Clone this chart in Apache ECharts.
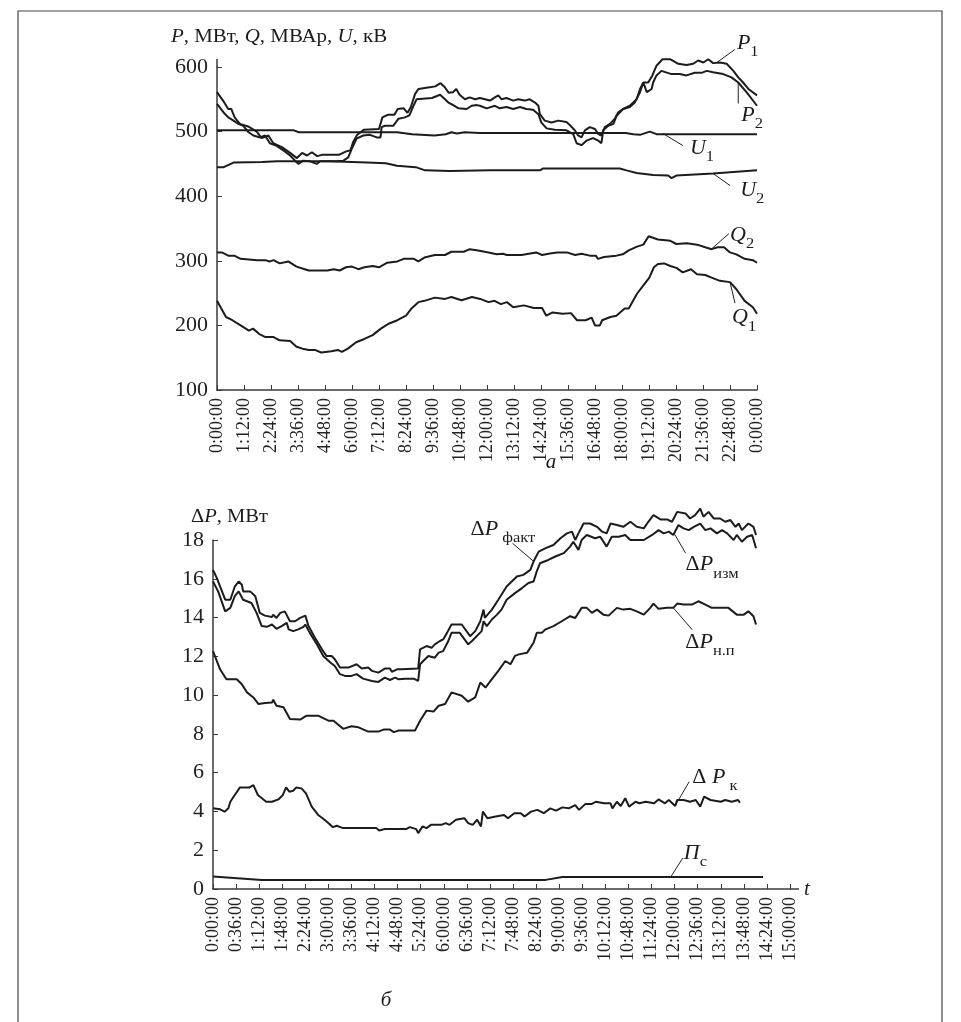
<!DOCTYPE html>
<html>
<head>
<meta charset="utf-8">
<script src="https://cdn.jsdelivr.net/npm/echarts@6/dist/echarts.min.js"></script>
<style>
  html, body { margin: 0; padding: 0; background: #fff; }
  #chart { width: 961px; height: 1022px; }
</style>
</head>
<body>
<div id="chart"></div>
<script>
// time in minutes
// panel a: P, MW / Q, MVAr / U, kV over 24 h
var p1 = [[0,561],[16,548],[30,535],[38,535],[47,522],[61,512],[83,508],[106,500],[119,490],[137,494],[150,482],[173,476],[195,467],[213,459],[227,467],[240,463],[253,468],[267,462],[280,464],[325,464],[343,469],[356,471],[363,484],[374,495],[392,503],[432,504],[441,522],[455,526],[473,526],[482,535],[498,536],[508,529],[517,538],[528,558],[537,566],[571,569],[582,570],[596,575],[607,569],[618,560],[629,561],[638,566],[647,557],[661,550],[674,553],[688,550],[701,552],[728,548],[741,553],[750,556],[759,550],[772,552],[790,548],[803,550],[821,548],[834,550],[848,545],[857,540],[861,527],[874,517],[892,514],[910,517],[932,515],[941,510],[954,502],[963,494],[972,491],[981,502],[994,507],[1008,504],[1017,496],[1025,494],[1034,507],[1048,512],[1061,520],[1070,530],[1083,535],[1101,538],[1114,545],[1128,561],[1137,576],[1150,576],[1161,587],[1172,602],[1188,612],[1208,612],[1230,605],[1252,603],[1270,605],[1283,610],[1297,607],[1310,612],[1323,606],[1341,607],[1359,605],[1377,594],[1390,584],[1403,576],[1417,566],[1440,556]];
var p2 = [[0,543],[17,530],[30,522],[44,517],[57,512],[70,509],[84,499],[97,494],[115,491],[128,494],[141,482],[159,478],[177,471],[195,463],[208,455],[217,450],[230,455],[248,454],[266,450],[275,454],[292,454],[319,454],[337,455],[350,460],[359,473],[372,489],[390,494],[408,495],[426,491],[436,491],[439,507],[448,509],[470,509],[484,520],[501,522],[513,525],[524,540],[532,550],[573,552],[595,557],[608,550],[617,545],[630,541],[644,536],[666,535],[679,540],[693,541],[701,540],[719,536],[741,540],[754,536],[772,538],[790,535],[808,538],[825,535],[843,534],[857,527],[865,514],[879,505],[901,503],[932,502],[950,496],[959,482],[972,479],[985,486],[1003,490],[1017,486],[1025,482],[1030,502],[1043,509],[1057,512],[1066,525],[1083,535],[1101,540],[1119,550],[1128,566],[1137,576],[1146,561],[1159,566],[1163,576],[1172,587],[1185,594],[1212,589],[1234,589],[1252,587],[1274,591],[1292,591],[1306,594],[1323,592],[1350,589],[1372,584],[1390,576],[1412,561],[1440,540]];
var u1 = [[0,502],[205,502],[218,499],[480,499],[520,496],[580,494],[610,496],[625,499],[640,497],[660,499],[700,498],[1000,498],[1090,498],[1110,496],[1128,495],[1154,500],[1172,496],[1440,496]];
var u2 = [[0,445],[18,445],[44,452],[120,453],[160,454],[300,454],[400,452],[450,451],[480,447],[530,445],[555,440],[620,439],[728,440],[861,440],[870,443],[1074,443],[1092,440],[1119,436],[1163,433],[1203,432],[1212,428],[1225,432],[1323,435],[1440,440]];
var q2 = [[0,313],[13,313],[30,308],[46,308],[63,303],[107,301],[129,301],[140,299],[151,301],[167,296],[190,299],[212,291],[234,287],[245,285],[294,285],[311,287],[327,285],[344,290],[360,291],[377,287],[393,290],[415,292],[432,290],[454,297],[481,299],[498,303],[525,303],[537,299],[553,305],[581,309],[608,309],[625,314],[658,314],[674,318],[696,316],[724,313],[746,310],[762,311],[773,309],[812,309],[851,313],[867,309],[884,311],[906,313],[933,313],[955,309],[972,311],[994,308],[1010,308],[1016,303],[1032,306],[1065,308],[1082,310],[1098,316],[1120,322],[1137,325],[1151,338],[1176,333],[1209,331],[1225,326],[1253,327],[1280,325],[1302,321],[1319,318],[1335,321],[1352,321],[1368,313],[1385,310],[1407,303],[1429,301],[1440,297]];
var q1 = [[0,238],[24,213],[41,208],[63,200],[85,192],[96,195],[112,187],[129,182],[151,182],[167,177],[195,176],[212,167],[228,164],[245,162],[261,162],[278,158],[305,160],[322,162],[333,159],[349,164],[371,174],[393,179],[415,185],[437,195],[459,203],[481,208],[504,215],[520,227],[537,236],[553,238],[581,243],[608,241],[625,244],[652,239],[680,244],[702,241],[724,236],[740,238],[757,233],[773,236],[790,228],[818,231],[845,227],[867,227],[878,215],[895,220],[922,218],[944,219],[960,208],[983,208],[999,212],[1008,200],[1021,200],[1027,208],[1049,213],[1065,215],[1087,226],[1098,226],[1120,249],[1137,262],[1153,274],[1165,290],[1176,295],[1192,296],[1209,292],[1225,289],[1242,282],[1264,287],[1280,279],[1302,278],[1319,274],[1341,269],[1368,267],[1385,256],[1407,238],[1429,228],[1440,218]];

// panel b: losses, MW over 15 h
var dpFact = [[0,16.46],[6,16.03],[19,14.92],[27,14.92],[34,15.6],[40,15.86],[45,15.69],[47,15.35],[58,15.35],[66,15.1],[73,14.24],[81,14.1],[92,14.03],[94,14.15],[99,13.98],[105,14.24],[112,14.32],[120,13.81],[128,13.81],[136,13.98],[144,14.1],[149,13.56],[159,12.96],[170,12.36],[177,12.02],[185,12.02],[190,11.85],[198,11.42],[211,11.42],[224,11.59],[232,11.37],[242,11.42],[248,11.25],[258,11.16],[268,11.37],[276,11.37],[279,11.2],[287,11.33],[294,11.33],[320,11.37],[323,12.36],[333,12.53],[341,12.44],[346,12.62],[354,12.79],[359,12.87],[365,13.21],[372,13.64],[388,13.64],[401,13.04],[409,13.3],[417,13.81],[422,14.41],[424,13.98],[435,14.41],[445,14.92],[458,15.6],[474,16.12],[484,16.2],[495,16.46],[500,16.89],[508,17.4],[518,17.57],[531,17.74],[542,18.09],[552,18.34],[560,18.43],[565,18.0],[570,18.34],[578,18.85],[588,18.85],[599,18.68],[607,18.43],[614,18.34],[620,18.85],[630,18.77],[640,18.68],[651,18.94],[661,18.68],[672,18.6],[679,18.94],[687,19.28],[698,19.06],[708,19.06],[716,18.94],[724,19.45],[737,19.37],[744,19.11],[752,19.28],[760,19.62],[765,19.2],[773,19.45],[781,19.11],[791,19.11],[799,18.94],[807,19.03],[815,18.68],[820,18.85],[825,18.51],[835,18.85],[843,18.68],[847,18.26]];
var dpIzm = [[0,15.86],[8,15.35],[19,14.32],[27,14.5],[34,15.1],[40,15.35],[47,14.92],[60,14.75],[68,14.24],[76,13.56],[84,13.52],[92,13.64],[99,13.42],[107,13.56],[115,13.73],[118,13.39],[125,13.3],[133,13.39],[141,13.52],[144,13.64],[151,13.21],[162,12.62],[172,12.02],[183,11.68],[190,11.5],[198,11.08],[206,10.99],[216,10.99],[224,11.08],[234,10.85],[248,10.73],[258,10.68],[268,10.9],[276,10.78],[284,10.9],[289,10.82],[300,10.85],[313,10.85],[320,10.73],[323,11.59],[328,11.76],[336,12.02],[346,11.93],[352,12.19],[359,12.27],[367,12.79],[372,13.21],[385,13.21],[398,12.62],[404,12.79],[414,13.13],[419,13.3],[422,13.81],[427,13.56],[435,13.9],[443,14.15],[450,14.41],[458,14.92],[471,15.26],[482,15.52],[492,15.78],[500,15.86],[505,16.38],[510,16.8],[523,16.97],[534,17.15],[547,17.32],[557,17.66],[562,17.91],[570,17.49],[575,18.0],[583,18.26],[596,18.09],[604,18.17],[614,17.66],[622,18.17],[633,18.17],[643,18.26],[651,18.0],[661,18.0],[672,18.0],[685,18.26],[695,18.51],[703,18.34],[711,18.43],[718,18.26],[726,18.77],[734,18.6],[742,18.51],[750,18.68],[760,18.85],[768,18.51],[776,18.6],[786,18.34],[794,18.51],[802,18.34],[812,18.0],[817,18.26],[825,17.91],[833,18.17],[841,18.26],[847,17.57]];
var dpNp = [[0,12.27],[11,11.33],[21,10.82],[37,10.82],[45,10.56],[53,10.14],[63,9.88],[71,9.54],[81,9.59],[92,9.62],[94,9.76],[99,9.45],[110,9.37],[120,8.77],[136,8.74],[146,8.94],[164,8.94],[180,8.68],[188,8.68],[203,8.26],[216,8.39],[227,8.34],[235,8.22],[242,8.12],[258,8.12],[266,8.22],[276,8.22],[282,8.09],[289,8.17],[315,8.17],[323,8.68],[333,9.2],[344,9.15],[352,9.45],[362,9.54],[372,10.14],[388,9.97],[398,9.66],[409,9.88],[417,10.65],[425,10.39],[435,10.82],[445,11.25],[456,11.76],[464,11.59],[471,12.02],[477,12.1],[490,12.19],[500,12.7],[505,13.21],[513,13.21],[518,13.38],[531,13.56],[544,13.81],[557,14.07],[565,13.98],[575,14.5],[583,14.5],[591,14.24],[599,14.41],[609,14.15],[617,14.1],[630,14.5],[640,14.41],[651,14.45],[661,14.32],[672,14.15],[682,14.5],[687,14.72],[695,14.45],[708,14.5],[718,14.5],[724,14.72],[734,14.67],[747,14.67],[757,14.84],[768,14.67],[778,14.5],[794,14.5],[804,14.5],[817,14.15],[828,14.15],[835,14.32],[843,14.07],[847,13.64]];
var dpK = [[0,4.16],[11,4.11],[18,3.99],[24,4.16],[27,4.5],[34,4.85],[42,5.24],[57,5.24],[63,5.36],[70,4.85],[83,4.5],[92,4.5],[102,4.62],[109,4.85],[114,5.24],[119,5.02],[125,5.07],[130,5.24],[138,5.19],[145,4.93],[154,4.25],[164,3.82],[171,3.65],[179,3.43],[187,3.19],[193,3.26],[203,3.14],[226,3.14],[255,3.14],[259,3.02],[268,3.09],[285,3.09],[301,3.09],[307,3.19],[317,3.09],[320,2.88],[327,3.23],[333,3.14],[340,3.31],[356,3.31],[363,3.4],[369,3.31],[379,3.57],[392,3.65],[398,3.4],[405,3.31],[412,3.57],[418,3.23],[421,3.99],[428,3.65],[441,3.74],[454,3.82],[460,3.65],[470,3.91],[480,3.91],[486,3.74],[496,3.99],[506,4.08],[516,3.91],[526,4.16],[535,4.04],[545,4.21],[555,4.16],[565,4.33],[571,4.08],[581,4.39],[591,4.39],[597,4.5],[610,4.42],[620,4.42],[623,4.16],[630,4.5],[636,4.28],[643,4.68],[649,4.25],[659,4.5],[665,4.42],[675,4.5],[688,4.42],[695,4.62],[705,4.42],[711,4.59],[721,4.28],[724,4.59],[734,4.59],[744,4.5],[753,4.59],[760,4.25],[766,4.76],[776,4.59],[792,4.5],[799,4.59],[809,4.5],[819,4.59],[822,4.45]];
var piC = [[0,0.65],[76,0.47],[519,0.47],[545,0.62],[858,0.62]];

var FONT = 'Liberation Serif';
var INK = '#1c1c1c';

function hms(v) {
    var h = Math.floor(v / 60) % 24, m = v % 60;
    return h + ':' + (m < 10 ? '0' : '') + m + ':00';
}

function rich(size) {
    return {
        r: {fontFamily: FONT, fontSize: size, fill: INK, color: INK},
        i: {fontFamily: FONT, fontSize: size, fontStyle: 'italic', fill: INK, color: INK},
        s: {fontFamily: FONT, fontSize: 15, fill: INK, color: INK, verticalAlign: 'bottom', lineHeight: 32}
    };
}

function xAxisOf(grid, max, step) {
    return {
        type: 'value', gridIndex: grid, min: 0, max: max, interval: step,
        splitLine: {show: false},
        axisLine: {lineStyle: {color: '#3a3a3a', width: 1.5}},
        axisTick: {inside: true, length: 5, lineStyle: {color: '#3a3a3a'}},
        axisLabel: {rotate: 90, margin: 8, fontFamily: FONT, fontSize: 18, color: '#222', formatter: hms}
    };
}

function yAxisOf(grid, min, max, step) {
    return {
        type: 'value', gridIndex: grid, min: min, max: max, interval: step,
        splitLine: {show: false},
        axisLine: {show: true, lineStyle: {color: '#3a3a3a', width: 1.5}},
        axisTick: {show: true, inside: true, length: 5, lineStyle: {color: '#3a3a3a'}},
        axisLabel: {margin: 9, fontFamily: FONT, fontSize: 22, color: '#222'}
    };
}

function line(data, grid) {
    return {
        type: 'line', xAxisIndex: grid, yAxisIndex: grid, data: data,
        showSymbol: false, clip: false, animation: false,
        lineStyle: {color: INK, width: 2}
    };
}

var option = {
    animation: false,
    backgroundColor: '#fff',
    grid: [
        {left: 217, top: 67, width: 540, height: 323},
        {left: 213, top: 540, width: 577, height: 349}
    ],
    xAxis: [
        xAxisOf(0, 1440, 72),
        Object.assign(xAxisOf(1, 900, 36), {
            name: 't', nameLocation: 'end', nameGap: 14,
            nameTextStyle: {fontFamily: FONT, fontSize: 21, fontStyle: 'italic', color: '#222', padding: [0, 0, 12, 0]}
        })
    ],
    yAxis: [
        yAxisOf(0, 100, 600, 100),
        yAxisOf(1, 0, 18, 2)
    ],
    series: [
        line(p1, 0), line(p2, 0), line(u1, 0), line(u2, 0), line(q2, 0), line(q1, 0),
        line(dpFact, 1), line(dpIzm, 1), line(dpNp, 1), line(dpK, 1), line(piC, 1)
    ]
};

var chart = echarts.init(document.getElementById('chart'), null, {renderer: 'canvas'});
chart.setOption(option);

// curve labels: leader starts on the curve (data coords), then offsets in px
var notes = [
    {g: 0, at: [1333, 607], dx: 18, dy: -13, lx: 2, ly: -6, text: '{i|P}{s|1}'},
    {g: 0, at: [1390, 576], dx: 0, dy: 21, lx: 3, ly: 12, text: '{i|P}{s|2}'},
    {g: 0, at: [1189, 497], dx: 20, dy: 12, lx: 7, ly: 3, text: '{i|U}{s|1}'},
    {g: 0, at: [1323, 435], dx: 17, dy: 12, lx: 10, ly: 5, text: '{i|U}{s|2}'},
    {g: 0, at: [1320, 319], dx: 17, dy: -15, lx: 1, ly: 2, text: '{i|Q}{s|2}'},
    {g: 0, at: [1368, 267], dx: 5, dy: 21, lx: -3, ly: 15, text: '{i|Q}{s|1}'},
    {g: 1, at: [500, 16.9], dx: -21, dy: -18, lx: -42, ly: -14, text: '{r|Δ}{i|P}{s| факт}'},
    {g: 1, at: [720, 18.3], dx: 11, dy: 19, lx: 0, ly: 12, text: '{r|Δ}{i|P}{s|изм}'},
    {g: 1, at: [718, 14.5], dx: 19, dy: 22, lx: -7, ly: 13, text: '{r|Δ}{i|P}{s|н.п}'},
    {g: 1, at: [721, 4.3], dx: 14, dy: -24, lx: 3, ly: -4, text: '{r|Δ }{i|P}{s| к}'},
    {g: 1, at: [714, 0.62], dx: 12, dy: -19, lx: 1, ly: -4, text: '{i|П}{s|с}'}
];

function label(x, y, text, size, sx) {
    return {type: 'text', silent: true, x: x, y: y, scaleX: sx, originX: 0, originY: 0,
        style: {x: 0, y: 0, text: text, rich: rich(size),
            align: 'left', verticalAlign: 'middle', textAlign: 'left', textVerticalAlign: 'middle'}};
}

var graphics = [
    {type: 'rect', silent: true, shape: {x: 18, y: 11, width: 924, height: 1030},
        style: {fill: 'none', stroke: '#444', lineWidth: 1.2}},
    label(171, 37, '{i|P}{r|, МВт, }{i|Q}{r|, МВАр, }{i|U}{r|, кВ}', 19, 1.1),
    label(191, 517, '{r|Δ}{i|P}{r|, МВт}', 19, 1.08),
    {type: 'text', silent: true, style: {x: 551, y: 462, text: 'а', font: 'italic 21px "Liberation Serif"', fill: INK,
        align: 'center', verticalAlign: 'middle', textAlign: 'center', textVerticalAlign: 'middle'}},
    {type: 'text', silent: true, style: {x: 386, y: 1000, text: 'б', font: 'italic 21px "Liberation Serif"', fill: INK,
        align: 'center', verticalAlign: 'middle', textAlign: 'center', textVerticalAlign: 'middle'}}
];

// axis lines run a little past the last tick, as in the source figure
var topEnd = chart.convertToPixel({xAxisIndex: 0, yAxisIndex: 0}, [0, 600]);
graphics.push({type: 'line', silent: true, shape: {x1: topEnd[0], y1: topEnd[1], x2: topEnd[0], y2: topEnd[1] - 8},
    style: {stroke: '#3a3a3a', lineWidth: 1.5}});
var tEnd = chart.convertToPixel({xAxisIndex: 1, yAxisIndex: 1}, [900, 0]);
graphics.push({type: 'line', silent: true, shape: {x1: tEnd[0], y1: tEnd[1], x2: tEnd[0] + 9, y2: tEnd[1]},
    style: {stroke: '#3a3a3a', lineWidth: 1.5}});

notes.forEach(function (n) {
    var p = chart.convertToPixel({xAxisIndex: n.g, yAxisIndex: n.g}, n.at);
    var ex = p[0] + n.dx, ey = p[1] + n.dy;
    graphics.push({type: 'line', silent: true, shape: {x1: p[0], y1: p[1], x2: ex, y2: ey},
        style: {stroke: '#222', lineWidth: 1}});
    graphics.push(label(ex + n.lx, ey + n.ly, n.text, 20, 1.1));
});

chart.setOption({graphic: graphics});
</script>
</body>
</html>
